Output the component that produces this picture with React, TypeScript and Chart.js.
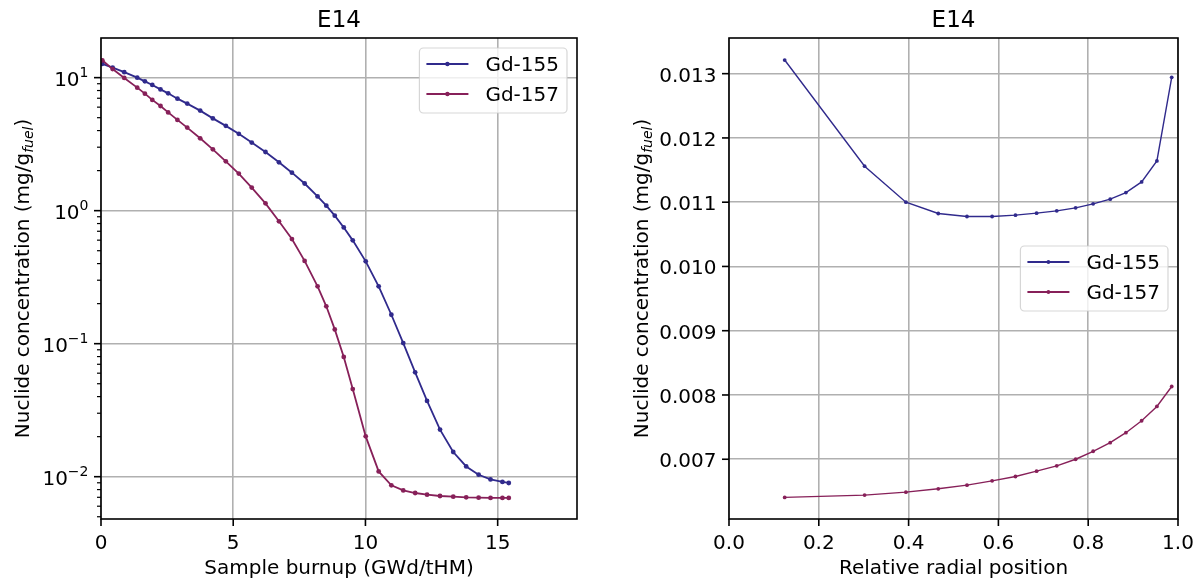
import React, { useEffect, useRef } from "react";
import { Chart, registerables } from "chart.js";
Chart.register(...registerables);

const FONT = '"DejaVu Sans", sans-serif';
const FS = 20;
const TITLE_FS = 23;
const GRID = "#b0b0b0";

const chartTitle = "E14";
const seriesNames = ["Gd-155", "Gd-157"];
const seriesColors = ["#302a8c", "#872059"];

// Left panel: concentration vs burnup (log scale)
const burnup = [0.05, 0.44, 0.88, 1.37, 1.66, 1.94, 2.25, 2.54, 2.89, 3.26, 3.75, 4.23, 4.72, 5.21, 5.7, 6.22, 6.73, 7.22, 7.7, 8.19, 8.52, 8.84, 9.18, 9.52, 10.01, 10.5, 10.98, 11.43, 11.88, 12.33, 12.82, 13.32, 13.81, 14.28, 14.73, 15.18, 15.42];
const gd155Burnup = [12.7, 11.9, 11.0, 10.0, 9.38, 8.81, 8.16, 7.62, 6.95, 6.38, 5.65, 4.94, 4.34, 3.78, 3.25, 2.76, 2.31, 1.93, 1.6, 1.28, 1.09, 0.917, 0.748, 0.598, 0.416, 0.27, 0.165, 0.101, 0.0609, 0.0371, 0.0226, 0.01534, 0.01194, 0.01035, 0.00954, 0.00913, 0.00897];
const gd157Burnup = [13.5, 11.6, 9.95, 8.41, 7.58, 6.8, 6.12, 5.48, 4.81, 4.21, 3.5, 2.89, 2.35, 1.9, 1.49, 1.135, 0.832, 0.612, 0.419, 0.27, 0.191, 0.128, 0.0795, 0.0456, 0.0201, 0.01096, 0.00861, 0.00789, 0.00754, 0.00732, 0.00716, 0.00708, 0.007, 0.00696, 0.00693, 0.00692, 0.00692];
const burnupTicks = [0, 5, 10, 15];
const burnupTickLabels = ["0", "5", "10", "15"];
const logDecades = [-2, -1, 0, 1];
const logExponentLabels = ["\u22122", "\u22121", "0", "1"];

// Right panel: concentration vs radial position
const radialPos = [0.124, 0.302, 0.394, 0.466, 0.53, 0.586, 0.638, 0.685, 0.73, 0.772, 0.811, 0.849, 0.884, 0.919, 0.953, 0.986];
const gd155Radial = [0.013212, 0.01156, 0.011, 0.010824, 0.010777, 0.010777, 0.010798, 0.010829, 0.010865, 0.010912, 0.010974, 0.011047, 0.01115, 0.011316, 0.011642, 0.012943];
const gd157Radial = [0.006406, 0.006442, 0.006488, 0.00654, 0.006597, 0.006664, 0.006731, 0.006814, 0.006897, 0.007, 0.007124, 0.007258, 0.007413, 0.007599, 0.007822, 0.008132];
const radialTicks = [0, 0.2, 0.4, 0.6, 0.8, 1.0];
const radialTickLabels = ["0.0", "0.2", "0.4", "0.6", "0.8", "1.0"];
const concTicks = [0.007, 0.008, 0.009, 0.01, 0.011, 0.012, 0.013];
const concTickLabels = ["0.007", "0.008", "0.009", "0.010", "0.011", "0.012", "0.013"];

const xLabelLeft = "Sample burnup (GWd/tHM)";
const xLabelRight = "Relative radial position";
const yLabelMain = "Nuclide concentration (mg/g";
const yLabelSub = "fuel";
const yLabelEnd = ")";

function font(size: number, italic = false) {
  return `${italic ? "italic " : ""}${size}px ${FONT}`;
}

function roundRect(ctx: CanvasRenderingContext2D, x: number, y: number, w: number, h: number, r: number) {
  ctx.beginPath();
  ctx.moveTo(x + r, y);
  ctx.lineTo(x + w - r, y);
  ctx.arcTo(x + w, y, x + w, y + r, r);
  ctx.lineTo(x + w, y + h - r);
  ctx.arcTo(x + w, y + h, x + w - r, y + h, r);
  ctx.lineTo(x + r, y + h);
  ctx.arcTo(x, y + h, x, y + h - r, r);
  ctx.lineTo(x, y + r);
  ctx.arcTo(x, y, x + r, y, r);
  ctx.closePath();
}

type DecorCfg = {
  xTicks: number[];
  xTickLabels: string[];
  yTicks?: number[];
  yTickLabels?: string[];
  logY: boolean;
  xLabel: string;
  yLabelOffset: number;
  legend: "upper right" | "center right";
  pointRadius: number;
  lineWidth: number;
};

function makeDecor(cfg: DecorCfg) {
  return {
    id: "decor",
    afterDraw(chart: any) {
      const ctx: CanvasRenderingContext2D = chart.ctx;
      const { left, right, top, bottom } = chart.chartArea;
      const xs = chart.scales.x;
      const ys = chart.scales.y;
      ctx.save();
      ctx.strokeStyle = "#000";
      ctx.fillStyle = "#000";
      // spines
      ctx.lineWidth = 1.6;
      ctx.strokeRect(left, top, right - left, bottom - top);

      const seg = (x1: number, y1: number, x2: number, y2: number) => {
        ctx.beginPath();
        ctx.moveTo(x1, y1);
        ctx.lineTo(x2, y2);
        ctx.stroke();
      };

      // x ticks + labels
      ctx.font = font(FS);
      ctx.textAlign = "center";
      ctx.textBaseline = "alphabetic";
      cfg.xTicks.forEach((v, i) => {
        const px = xs.getPixelForValue(v);
        ctx.lineWidth = 1.6;
        seg(px, bottom, px, bottom + 7);
        ctx.fillText(cfg.xTickLabels[i], px, bottom + 29.5);
      });

      // y ticks + labels
      if (cfg.logY) {
        logDecades.forEach((d, i) => {
          const py = ys.getPixelForValue(Math.pow(10, d));
          ctx.lineWidth = 1.6;
          seg(left, py, left - 7, py);
          const xr = left - 12.5;
          ctx.textAlign = "right";
          ctx.font = font(FS * 0.7);
          const ew = ctx.measureText(logExponentLabels[i]).width;
          ctx.fillText(logExponentLabels[i], xr, py - 0.5);
          ctx.font = font(FS);
          ctx.fillText("10", xr - ew, py + 8);
        });
        // minor ticks
        ctx.lineWidth = 1.2;
        for (let d = -3; d <= 1; d++) {
          for (let k = 2; k <= 9; k++) {
            const v = k * Math.pow(10, d);
            if (v < ys.min || v > ys.max) continue;
            const py = ys.getPixelForValue(v);
            seg(left, py, left - 4, py);
          }
        }
      } else if (cfg.yTicks && cfg.yTickLabels) {
        ctx.font = font(FS);
        ctx.textAlign = "right";
        cfg.yTicks.forEach((v, i) => {
          const py = ys.getPixelForValue(v);
          ctx.lineWidth = 1.6;
          seg(left, py, left - 7, py);
          ctx.fillText(cfg.yTickLabels![i], left - 12.5, py + 8);
        });
      }

      // title
      ctx.font = font(TITLE_FS);
      ctx.textAlign = "center";
      ctx.fillText(chartTitle, (left + right) / 2, top - 11);

      // x label
      ctx.font = font(FS);
      ctx.fillText(cfg.xLabel, (left + right) / 2, bottom + 55);

      // y label (rotated, with italic subscript)
      ctx.save();
      ctx.translate(left - cfg.yLabelOffset, (top + bottom) / 2);
      ctx.rotate(-Math.PI / 2);
      ctx.textAlign = "left";
      ctx.font = font(FS);
      const w1 = ctx.measureText(yLabelMain).width;
      const w3 = ctx.measureText(yLabelEnd).width;
      ctx.font = font(FS * 0.7, true);
      const w2 = ctx.measureText(yLabelSub).width;
      let x0 = -(w1 + w2 + w3) / 2;
      const base = 7;
      ctx.font = font(FS);
      ctx.fillText(yLabelMain, x0, base);
      x0 += w1;
      ctx.font = font(FS * 0.7, true);
      ctx.fillText(yLabelSub, x0, base + 4);
      x0 += w2;
      ctx.font = font(FS);
      ctx.fillText(yLabelEnd, x0, base);
      ctx.restore();

      // legend
      ctx.font = font(FS);
      const tw = Math.max(...seriesNames.map((n) => ctx.measureText(n).width));
      const bw = 7 + 42 + 17 + tw + 8;
      const bh = 65;
      const bx = right - 10 - bw;
      const by = cfg.legend === "upper right" ? top + 10 : (top + bottom) / 2 - bh / 2;
      ctx.globalAlpha = 0.8;
      roundRect(ctx, bx, by, bw, bh, 4);
      ctx.fillStyle = "#ffffff";
      ctx.fill();
      ctx.strokeStyle = "#cccccc";
      ctx.lineWidth = 1.2;
      ctx.stroke();
      ctx.globalAlpha = 1;
      seriesNames.forEach((n, i) => {
        const cy = by + 16 + i * 30;
        ctx.strokeStyle = seriesColors[i];
        ctx.lineWidth = cfg.lineWidth;
        seg(bx + 7, cy, bx + 49, cy);
        ctx.fillStyle = seriesColors[i];
        ctx.beginPath();
        ctx.arc(bx + 28, cy, cfg.pointRadius, 0, Math.PI * 2);
        ctx.fill();
        ctx.fillStyle = "#000";
        ctx.textAlign = "left";
        ctx.fillText(n, bx + 66, cy + 7.3);
      });
      ctx.restore();
    },
  };
}

function dataset(i: number, xs: number[], ys: number[], lw: number, pr: number) {
  return {
    label: seriesNames[i],
    data: xs.map((x, k) => ({ x, y: ys[k] })),
    borderColor: seriesColors[i],
    backgroundColor: seriesColors[i],
    borderWidth: lw,
    pointRadius: pr,
    pointBorderWidth: 0,
    pointHoverRadius: pr,
    tension: 0,
    fill: false,
    order: 1 - i,
  };
}

function buildConfig(opts: {
  xMin: number;
  xMax: number;
  yMin: number;
  yMax: number;
  logY: boolean;
  xTicks: number[];
  yTicks: number[];
  yAxisWidth: number;
  padRight: number;
  datasets: any[];
  decor: any;
}): any {
  return {
    type: "line",
    data: { datasets: opts.datasets },
    options: {
      responsive: false,
      animation: false,
      devicePixelRatio: 1,
      events: [],
      layout: { padding: { top: 38, right: opts.padRight, left: 0, bottom: 0 } },
      plugins: { legend: { display: false }, title: { display: false }, tooltip: { enabled: false } },
      scales: {
        x: {
          type: "linear",
          min: opts.xMin,
          max: opts.xMax,
          afterBuildTicks: (s: any) => {
            s.ticks = opts.xTicks.map((v) => ({ value: v }));
          },
          afterFit: (s: any) => {
            s.height = 64;
          },
          ticks: { display: false },
          grid: { color: GRID, lineWidth: 1.6, drawTicks: false },
          border: { display: false },
        },
        y: {
          type: opts.logY ? "logarithmic" : "linear",
          min: opts.yMin,
          max: opts.yMax,
          afterBuildTicks: (s: any) => {
            s.ticks = opts.yTicks.map((v) => ({ value: v }));
          },
          afterFit: (s: any) => {
            s.width = opts.yAxisWidth;
          },
          ticks: { display: false },
          grid: { color: GRID, lineWidth: 1.6, drawTicks: false },
          border: { display: false },
        },
      },
    },
    plugins: [opts.decor],
  };
}

export default function App() {
  const leftRef = useRef<HTMLCanvasElement>(null);
  const rightRef = useRef<HTMLCanvasElement>(null);

  useEffect(() => {
    const left = new Chart(
      leftRef.current!,
      buildConfig({
        xMin: 0,
        xMax: 18,
        yMin: Math.pow(10, -2.318),
        yMax: Math.pow(10, 1.298),
        logY: true,
        xTicks: burnupTicks,
        yTicks: logDecades.map((d) => Math.pow(10, d)),
        yAxisWidth: 101,
        padRight: 23,
        datasets: [dataset(0, burnup, gd155Burnup, 1.8, 2.4), dataset(1, burnup, gd157Burnup, 1.8, 2.4)],
        decor: makeDecor({
          xTicks: burnupTicks,
          xTickLabels: burnupTickLabels,
          logY: true,
          xLabel: xLabelLeft,
          yLabelOffset: 79,
          legend: "upper right",
          pointRadius: 2.2,
          lineWidth: 1.8,
        }),
      })
    );
    const right = new Chart(
      rightRef.current!,
      buildConfig({
        xMin: 0,
        xMax: 1,
        yMin: 0.00607,
        yMax: 0.013555,
        logY: false,
        xTicks: radialTicks,
        yTicks: concTicks,
        yAxisWidth: 129,
        padRight: 25,
        datasets: [dataset(0, radialPos, gd155Radial, 1.4, 1.9), dataset(1, radialPos, gd157Radial, 1.4, 1.9)],
        decor: makeDecor({
          xTicks: radialTicks,
          xTickLabels: radialTickLabels,
          yTicks: concTicks,
          yTickLabels: concTickLabels,
          logY: false,
          xLabel: xLabelRight,
          yLabelOffset: 88,
          legend: "center right",
          pointRadius: 1.9,
          lineWidth: 1.8,
        }),
      })
    );
    return () => {
      left.destroy();
      right.destroy();
    };
  }, []);

  return (
    <div style={{ position: "absolute", left: 0, top: 0, width: 1203, height: 583, background: "#fff", overflow: "hidden" }}>
      <canvas ref={leftRef} width={600} height={583} style={{ position: "absolute", left: 0, top: 0, width: 600, height: 583 }} />
      <canvas ref={rightRef} width={603} height={583} style={{ position: "absolute", left: 600, top: 0, width: 603, height: 583 }} />
    </div>
  );
}
